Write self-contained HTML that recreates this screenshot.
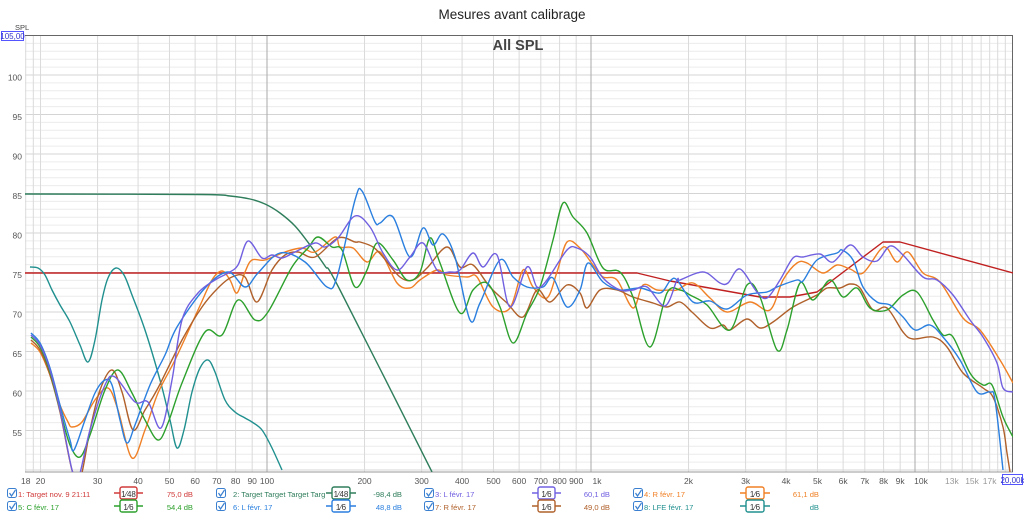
<!DOCTYPE html>
<html><head><meta charset="utf-8"><style>
body{margin:0;background:#fff;width:1024px;height:515px;overflow:hidden;font-family:"Liberation Sans",sans-serif}
svg{position:absolute;left:0;top:0}
</style></head><body>
<svg width="1024" height="515" viewBox="0 0 1024 515" font-family="Liberation Sans, sans-serif">
<defs><clipPath id="c"><rect x="25" y="35" width="988" height="437"/></clipPath>
<clipPath id="lc"><rect x="230" y="485" width="95" height="30"/></clipPath></defs>
<text x="512" y="19" font-size="13.5" text-anchor="middle" fill="#222">Mesures avant calibrage</text>
<g id="grid"></g>
<g id="labels" font-size="8.5" fill="#555"></g>
<line x1="25" y1="35.5" x2="1013" y2="35.5" stroke="#666" stroke-width="1"/>
<line x1="25" y1="472" x2="1013" y2="472" stroke="#999" stroke-width="1"/>
<line x1="1012.5" y1="35" x2="1012.5" y2="472" stroke="#666" stroke-width="1"/>
<text x="518" y="50" font-size="14.5" font-weight="bold" text-anchor="middle" fill="#444">All SPL</text>
<text x="15" y="30" font-size="7.5" fill="#444">SPL</text>
<rect x="1.5" y="31.5" width="22" height="9" fill="#fff" stroke="#55f"/>
<text x="12.5" y="39" font-size="8" text-anchor="middle" fill="#33c">105,00</text>
<rect x="1002.5" y="474.5" width="20" height="10" fill="#fff" stroke="#55f"/>
<text x="1012.5" y="483" font-size="8" text-anchor="middle" fill="#33c">20,00k</text>
<g id="curves" clip-path="url(#c)" fill="none" stroke-width="1.4" stroke-linejoin="round">
<polyline stroke="#c02020" points="25,273 637,273 670,281 760,297 790,297 817,292 883,242 900,242 1013,273"/>
<polyline stroke="#2e7d5b" class="s" points="25,194 200,194.5 230,196 250,199 265,204 280,213 295,226 310,245 325,266 340,290 432,472"/>
<polyline stroke="#20908f" class="s" points="30,267 38,268 45,275 52,290 60,305 70,322 80,345 88,362 95,340 102,300 108,278 116,268 124,275 132,295 145,330 160,380 170,420 177,448 184,430 192,392 200,368 208,360 215,372 225,400 235,412 245,418 252,422 262,430 272,448 282,470"/>
<polyline stroke="#f08025" class="s" points="31,343 40,352 50,375 60,405 68,422 72,427 82,422 95,400 108,388 118,410 132,458 145,430 158,393 175,360 198,310 212,280 222,271 230,280 237,293 245,272 252,260 265,260 285,252 302,248 315,252 335,237 340,247 353,248 367,262 380,252 397,283 410,288 420,280 437,270 447,275 467,277 477,277 493,307 510,308 523,270 533,287 547,298 557,272 567,242 580,248 593,265 603,277 617,280 633,308 643,285 657,290 670,290 677,290 693,283 710,298 727,312 750,302 770,310 783,280 797,263 807,263 823,273 837,265 850,269 863,273 880,250 887,248 897,262 908,252 923,273 940,282 963,318 980,330 1000,360 1013,383"/>
<polyline stroke="#b0602a" class="s" points="31,340 40,350 50,375 60,412 72,470 80,480 90,430 100,390 112,370 122,392 133,430 145,410 158,388 182,340 202,307 218,288 232,277 245,277 257,302 272,270 285,255 298,252 315,257 338,238 355,242 360,242 373,247 383,257 400,277 413,280 427,268 447,247 460,267 473,265 490,287 507,303 523,317 537,290 550,302 567,285 580,293 587,308 600,290 617,290 633,297 653,303 667,307 680,302 693,313 710,328 723,325 730,330 747,319 760,328 773,322 793,307 817,295 827,288 840,288 850,284 860,288 873,310 887,308 903,332 913,339 933,337 947,347 963,373 983,388 993,397 1003,427 1007,453 1010,472"/>
<polyline stroke="#2ca02c" class="s" points="31,337 40,347 50,372 60,410 70,445 80,457 90,435 105,390 118,370 132,393 145,420 158,440 168,423 182,383 205,332 222,335 238,300 255,320 268,312 292,267 308,248 318,237 332,247 342,250 355,287 367,270 377,243 393,260 407,280 420,272 430,238 440,263 460,313 473,290 487,283 500,307 513,343 527,313 540,287 553,240 563,203 573,217 587,233 603,268 620,272 633,297 650,347 667,293 680,290 690,295 707,305 730,330 747,285 760,297 777,350 787,330 800,283 813,300 830,280 843,297 857,288 870,308 887,310 903,295 917,292 933,320 943,335 953,337 970,373 983,385 992,385 1003,417 1013,437"/>
<polyline stroke="#2a7fdf" class="s" points="31,333 40,343 50,368 60,405 70,440 74,450 85,420 95,393 105,380 112,385 120,420 127,443 135,425 150,385 165,355 177,327 205,288 228,272 245,287 258,273 280,253 305,262 327,287 337,277 355,200 362,191 375,222 380,223 393,217 410,257 423,228 433,245 443,234 455,257 470,320 480,303 500,260 513,277 527,287 543,287 553,278 567,307 580,290 588,263 603,282 620,290 640,288 660,293 670,281 677,280 693,302 710,301 727,309 747,295 767,292 777,287 797,280 803,281 817,260 837,253 842,250 853,260 863,287 877,302 890,305 903,317 915,330 930,325 943,337 960,360 977,392 990,392 995,400 1003,470"/>
<polyline stroke="#7060e0" class="s" points="31,335 40,345 50,370 60,410 72,470 78,480 90,430 105,385 115,377 135,402 148,402 161,428 172,380 182,320 198,293 215,280 228,273 238,265 248,241 262,258 272,255 282,258 295,252 315,243 325,247 338,238 355,216 370,227 383,253 397,270 410,257 423,243 437,270 450,272 460,270 473,253 483,267 497,255 510,307 527,267 537,287 547,280 567,250 577,248 590,257 603,278 620,290 633,290 647,287 665,306 677,280 680,280 697,273 707,273 720,283 728,283 740,269 757,292 767,298 780,280 793,258 803,257 820,254 833,262 850,245 863,257 877,261 890,246 903,255 923,277 937,280 953,295 970,320 983,337 997,363 1003,388 1013,392"/>
</g>
<g id="legend" font-size="7.6"></g>
</svg>
<script>
var ns="http://www.w3.org/2000/svg";
function el(p,t,a,txt){var e=document.createElementNS(ns,t);for(var k in a)e.setAttribute(k,a[k]);if(txt!==undefined)e.textContent=txt;document.getElementById(p).appendChild(e);return e;}
function X(f){return 267+324*Math.log10(f/100);}
for(var k=0;k<=55;k++){var y=35.5+k*7.9;if(y>472)break;el("grid","line",{x1:25,x2:1013,y1:y,y2:y,stroke:(k%5==0)?"#d4d4d4":"#ececec","stroke-width":1});}
var fr=[];[10,100,1000].forEach(function(d){for(var i=1;i<10;i++)fr.push(i*d);});fr.push(10000,20000);
[11000,12000,13000,14000,15000,16000,17000,18000,19000].forEach(function(f){fr.push(f);});fr.push(18,19);
fr.forEach(function(f){if(f<18||f>20000)return;var x=X(f);var maj=(f==100||f==1000||f==10000);el("grid","line",{x1:x,x2:x,y1:35,y2:472,stroke:maj?"#aaa":"#dadada","stroke-width":1});});
for(var v=100;v>=55;v-=5){el("labels","text",{x:22,y:275-(v-75)*7.9+3,"text-anchor":"end"},String(v));}
var xl=[[18,"18"],[20,"20"],[30,"30"],[40,"40"],[50,"50"],[60,"60"],[70,"70"],[80,"80"],[90,"90"],[100,"100"],[200,"200"],[300,"300"],[400,"400"],[500,"500"],[600,"600"],[700,"700"],[800,"800"],[900,"900"],[1000,"1k"],[2000,"2k"],[3000,"3k"],[4000,"4k"],[5000,"5k"],[6000,"6k"],[7000,"7k"],[8000,"8k"],[9000,"9k"],[10000,"10k"],[13000,"13k"],[15000,"15k"],[17000,"17k"]];
xl.forEach(function(a){var t=el("labels","text",{x:X(a[0])+(a[1]=="1k"||a[1]=="10k"?6:0),y:484,"text-anchor":"middle"},a[1]);if(a[0]>10000)t.setAttribute("fill","#999");});
Array.prototype.forEach.call(document.querySelectorAll("polyline.s"),function(pl){
var pts=pl.getAttribute("points").trim().split(/\s+/).map(function(s){var q=s.split(",");return [+q[0],+q[1]];});
var d="M"+pts[0][0]+" "+pts[0][1];
for(var i=0;i<pts.length-1;i++){var p0=pts[i>0?i-1:0],p1=pts[i],p2=pts[i+1],p3=pts[i+2<pts.length?i+2:i+1];
d+=" C"+(p1[0]+(p2[0]-p0[0])/6).toFixed(1)+" "+(p1[1]+(p2[1]-p0[1])/6).toFixed(1)+" "+(p2[0]-(p3[0]-p1[0])/6).toFixed(1)+" "+(p2[1]-(p3[1]-p1[1])/6).toFixed(1)+" "+p2[0]+" "+p2[1];}
var path=document.createElementNS(ns,"path");path.setAttribute("d",d);path.setAttribute("stroke",pl.getAttribute("stroke"));
pl.parentNode.replaceChild(path,pl);});
var L=[
[7,18,114,143,193,496,"#d03a3a","1: Target nov. 9 21:11","75,0 dB","1⁄48"],
[216,233,326,356,402,496,"#2e7d5b","2: Target Target Target Target T","-98,4 dB","1⁄48"],
[424,435,532,561,610,496,"#7060e0","3: L févr. 17","60,1 dB","1⁄6"],
[633,644,740,770,819,496,"#f08025","4: R févr. 17","61,1 dB","1⁄6"],
[7,18,114,143,193,509,"#2ca02c","5: C févr. 17","54,4 dB","1⁄6"],
[216,233,326,356,402,509,"#2a7fdf","6: L févr. 17","48,8 dB","1⁄6"],
[424,435,532,561,610,509,"#b0602a","7: R févr. 17","49,0 dB","1⁄6"],
[633,644,740,770,819,509,"#20908f","8: LFE févr. 17","dB","1⁄6"]];
L.forEach(function(a,i){var y=a[5];
el("legend","rect",{x:a[0]+0.5,y:y-7.5,width:9,height:9,rx:2,fill:"#fff",stroke:"#3a7fd0"});
el("legend","path",{d:"M"+(a[0]+2.5)+" "+(y-3)+" l2 3 l4 -6",fill:"none",stroke:"#3a7fd0","stroke-width":1.2});
var t=el("legend","text",{x:a[1],y:y+1,fill:a[6]},a[7]);
if(i==1)t.setAttribute("clip-path","url(#lc)");
el("legend","line",{x1:a[2],x2:a[3],y1:y-3,y2:y-3,stroke:a[6],"stroke-width":1.4});
var bx=a[2]+6,bw=a[3]-a[2]-12;
el("legend","rect",{x:bx,y:y-9,width:bw,height:12,rx:2,fill:"#fff",stroke:a[6],"stroke-width":1.4});
el("legend","text",{x:bx+bw/2,y:y+1,"text-anchor":"middle",fill:"#333","font-size":"8"},a[9]);
el("legend","text",{x:a[4],y:y+1,"text-anchor":"end",fill:a[6]},a[8]);
});
</script>
</body></html>
